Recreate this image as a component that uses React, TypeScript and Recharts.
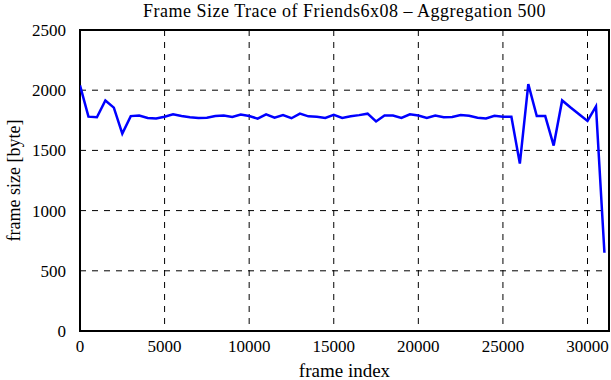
import React from "react";
import {
  LineChart,
  Line,
  CartesianGrid,
  XAxis,
  YAxis,
  ReferenceArea,
  Label
} from "recharts";

// aggregated frame index (every 500 frames)
const frameIndex = [
  0, 500, 1000, 1500, 2000, 2500, 3000, 3500, 4000, 4500,
  5000, 5500, 6000, 6500, 7000, 7500, 8000, 8500, 9000, 9500,
  10000, 10500, 11000, 11500, 12000, 12500, 13000, 13500, 14000, 14500,
  15000, 15500, 16000, 16500, 17000, 17500, 18000, 18500, 19000, 19500,
  20000, 20500, 21000, 21500, 22000, 22500, 23000, 23500, 24000, 24500,
  25000, 25500, 26000, 26500, 27000, 27500, 28000, 28500, 29000, 29500,
  30000, 30500, 31000
];

// frame size in bytes
const frameSize = [
  2040, 1780, 1775, 1915, 1855, 1640, 1785, 1790, 1770, 1765,
  1780, 1800, 1785, 1775, 1770, 1772, 1785, 1790, 1778, 1797,
  1785, 1764, 1800, 1772, 1793, 1767, 1805, 1783, 1780, 1770,
  1795, 1770, 1783, 1793, 1805, 1740, 1790, 1790, 1770, 1800,
  1790, 1770, 1790, 1775, 1778, 1793, 1787, 1772, 1766, 1787,
  1780, 1780, 1390, 2050, 1785, 1785, 1540, 1915, 1856, 1800,
  1745, 1865, 650
];

const xTicks = [0, 5000, 10000, 15000, 20000, 25000, 30000];
const yTicks = [0, 500, 1000, 1500, 2000, 2500];

const X_MAX = 31270;
const FONT = "'Liberation Serif', 'Times New Roman', serif";

const chartData = frameIndex.map((f, i) => ({ frame: f, size: frameSize[i] }));

export default function App() {
  return (
    <div style={{ position: "absolute", left: 0, top: 0, width: 611, height: 380, background: "#fff", fontFamily: FONT }}>
      <div
        style={{
          position: "absolute",
          left: 60,
          width: 569,
          top: 1,
          textAlign: "center",
          fontSize: 18,
          lineHeight: "20px",
          letterSpacing: 0.5,
          color: "#000",
          whiteSpace: "nowrap"
        }}
      >
        Frame Size Trace of Friends6x08 – Aggregation 500
      </div>
      <LineChart
        width={611}
        height={380}
        data={chartData}
        margin={{ top: 30, right: 2, bottom: 0, left: 0 }}
        style={{ fontFamily: FONT }}
      >
        <CartesianGrid
          stroke="#000"
          strokeDasharray="6 6"
          strokeWidth={1}
          horizontalValues={[500, 1000, 1500, 2000]}
          verticalValues={[5000, 10000, 15000, 20000, 25000, 30000]}
        />
        <XAxis
          dataKey="frame"
          type="number"
          domain={[0, X_MAX]}
          ticks={xTicks}
          allowDataOverflow
          height={49}
          axisLine={false}
          tickLine={false}
          tickMargin={3}
          tick={{ fill: "#000", fontSize: 17, fontFamily: FONT }}
        >
          <Label
            value="frame index"
            position="insideBottom"
            offset={3}
            style={{ fill: "#000", fontSize: 19, fontFamily: FONT }}
          />
        </XAxis>
        <YAxis
          type="number"
          domain={[0, 2500]}
          ticks={yTicks}
          width={80}
          axisLine={false}
          tickLine={false}
          tickMargin={8}
          tick={{ fill: "#000", fontSize: 17, fontFamily: FONT }}
        >
          <Label
            value="frame size [byte]"
            angle={-90}
            position="insideLeft"
            offset={14}
            style={{ textAnchor: "middle", fill: "#000", fontSize: 18, fontFamily: FONT }}
          />
        </YAxis>
        <ReferenceArea
          x1={0}
          x2={X_MAX}
          y1={0}
          y2={2500}
          fill="none"
          fillOpacity={0}
          stroke="#000"
          strokeWidth={2}
        />
        <Line
          type="linear"
          dataKey="size"
          stroke="#0000ff"
          strokeWidth={2.5}
          dot={false}
          isAnimationActive={false}
        />
      </LineChart>
    </div>
  );
}
